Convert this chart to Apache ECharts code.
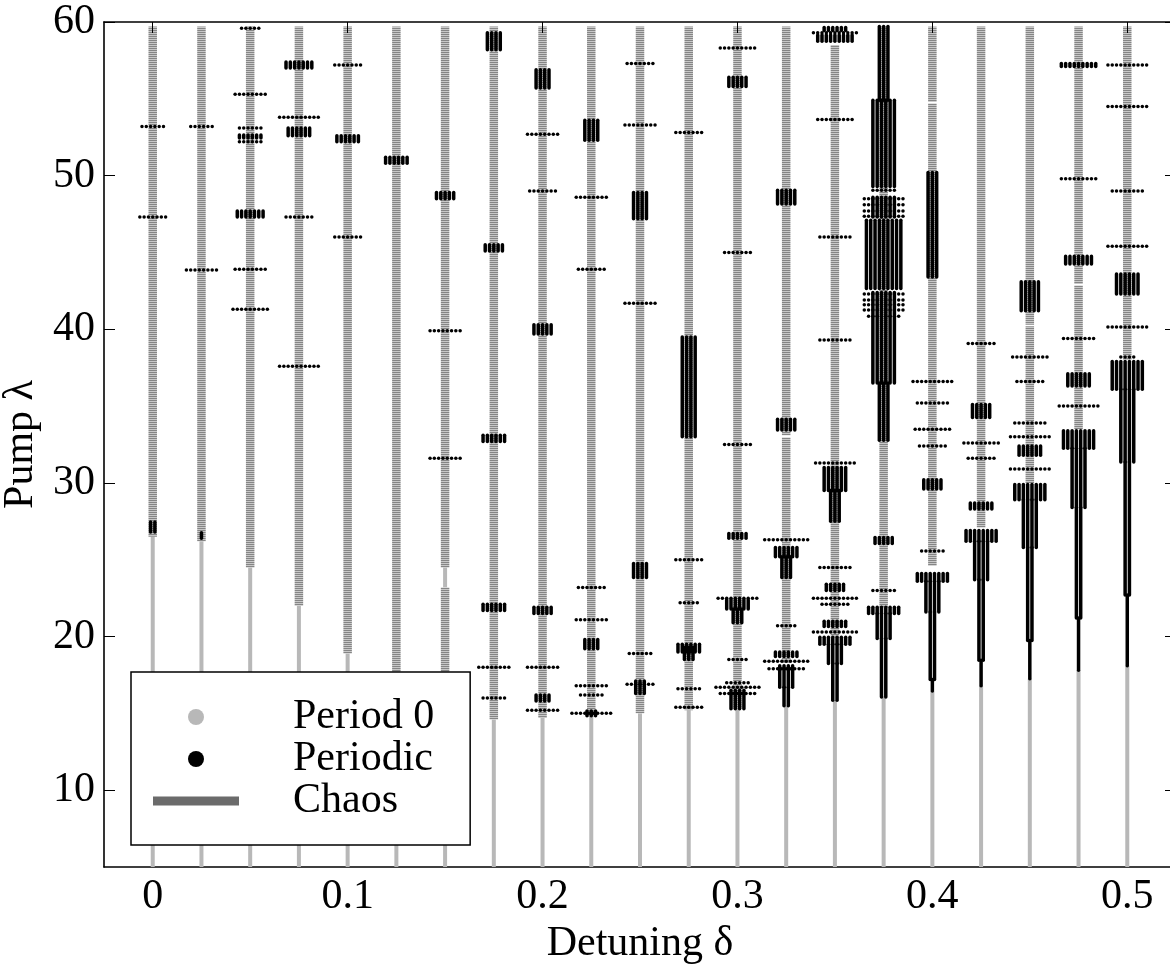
<!DOCTYPE html>
<html>
<head>
<meta charset="utf-8">
<script src="https://cdn.jsdelivr.net/npm/echarts@6/dist/echarts.min.js"></script>
<style>
  html, body { margin: 0; padding: 0; background: #fff; }
  #chart { width: 1170px; height: 965px; }
</style>
</head>
<body>
<div id="chart"></div>
<script>
// detuning columns
const deltas = [0, 0.025, 0.05, 0.075, 0.1, 0.125, 0.15, 0.175, 0.2, 0.225, 0.25,
  0.275, 0.3, 0.325, 0.35, 0.375, 0.4, 0.425, 0.45, 0.475, 0.5]

const xTicks = [0, 0.1, 0.2, 0.3, 0.4, 0.5]
const yTicks = [10, 20, 30, 40, 50, 60]

// period 0 segments: [delta, lambdaLow, lambdaHigh]
const period0 = [
  [0, 5, 26.5], [0.025, 5, 26.2], [0.05, 5, 24.5], [0.075, 5, 22.0], [0.1, 5, 18.9],
  [0.125, 5, 17.0], [0.15, 5, 17.0], [0.15, 23.2, 24.5], [0.175, 5, 14.6], [0.2, 5, 14.7],
  [0.225, 5, 14.8], [0.25, 5, 15.0], [0.275, 5, 15.2], [0.3, 5, 15.3], [0.325, 5, 15.5],
  [0.35, 5, 15.85], [0.375, 5, 16.1], [0.4, 5, 16.45], [0.425, 5, 16.8], [0.45, 5, 17.25],
  [0.475, 5, 17.8], [0.5, 5, 18.1]
]

// chaos segments: [delta, lambdaLow, lambdaHigh]
const chaos = [
  [0, 26.5, 59.7], [0.025, 26.2, 59.7], [0.05, 24.5, 59.7], [0.075, 22.0, 59.7],
  [0.1, 18.9, 59.7], [0.125, 17.0, 59.7], [0.15, 24.5, 59.7], [0.15, 17.0, 23.2],
  [0.175, 14.6, 59.7], [0.2, 14.7, 59.7], [0.225, 14.8, 59.7], [0.25, 15.0, 59.7],
  [0.275, 15.2, 59.7], [0.3, 15.3, 59.7], [0.325, 18.3, 32.95], [0.325, 33.1, 59.7],
  [0.35, 20.0, 58.5], [0.375, 21.9, 59.7], [0.4, 24.6, 54.7], [0.4, 54.8, 59.7],
  [0.425, 27.1, 59.7], [0.45, 30.0, 40.2], [0.45, 40.3, 59.7], [0.475, 33.5, 42.85],
  [0.475, 42.95, 59.7], [0.5, 38.0, 59.7]
]

// periodic windows: [delta, lambdaLow, lambdaHigh, number of points]
const periodic = [
  [0, 26.8, 27.45, 2], [0, 53.2, 53.2, 6], [0, 47.3, 47.3, 7],
  [0.025, 26.4, 26.75, 1], [0.025, 53.2, 53.2, 6], [0.025, 43.85, 43.85, 8],
  [0.05, 59.6, 59.6, 5], [0.05, 55.3, 55.3, 8], [0.05, 53.1, 53.1, 6], [0.05, 52.45, 52.65, 6],
  [0.05, 52.2, 52.2, 6], [0.05, 47.3, 47.7, 7], [0.05, 43.9, 43.9, 8], [0.05, 41.3, 41.3, 9],
  [0.075, 57.0, 57.4, 7], [0.075, 53.8, 53.8, 10], [0.075, 52.6, 53.1, 6], [0.075, 47.3, 47.3, 7],
  [0.075, 37.6, 37.6, 10],
  [0.1, 57.2, 57.2, 7], [0.1, 52.2, 52.6, 6], [0.1, 46.0, 46.0, 7],
  [0.125, 50.8, 51.2, 6],
  [0.15, 48.5, 48.9, 5], [0.15, 39.9, 39.9, 8], [0.15, 31.6, 31.6, 8],
  [0.175, 58.2, 59.3, 4], [0.175, 45.1, 45.5, 5], [0.175, 32.7, 33.1, 6], [0.175, 21.7, 22.1, 6],
  [0.175, 18.0, 18.0, 8], [0.175, 16.0, 16.0, 6],
  [0.2, 55.7, 56.9, 4], [0.2, 52.7, 52.7, 8], [0.2, 49.0, 49.0, 7], [0.2, 39.7, 40.3, 5],
  [0.2, 21.5, 21.9, 5], [0.2, 18.0, 18.0, 8], [0.2, 15.8, 16.2, 4], [0.2, 15.2, 15.2, 8],
  [0.225, 52.3, 53.6, 4], [0.225, 48.6, 48.6, 8], [0.225, 43.9, 43.9, 7], [0.225, 23.2, 23.2, 7],
  [0.225, 21.1, 21.1, 8], [0.225, 19.2, 19.8, 4], [0.225, 16.8, 16.8, 8], [0.225, 16.2, 16.2, 6],
  [0.225, 15.0, 15.0, 10], [0.225, 14.85, 15.15, 3],
  [0.25, 57.3, 57.3, 7], [0.25, 53.3, 53.3, 8], [0.25, 47.2, 48.9, 4], [0.25, 41.7, 41.7, 8],
  [0.25, 23.85, 24.75, 4], [0.25, 18.9, 18.9, 6], [0.25, 16.9, 16.9, 7], [0.25, 16.3, 17.1, 3],
  [0.275, 52.8, 52.8, 7], [0.275, 33.0, 39.5, 4], [0.275, 25.0, 25.0, 7], [0.275, 22.2, 22.2, 5],
  [0.275, 19.0, 19.5, 6], [0.275, 18.5, 19.3, 3], [0.275, 16.6, 16.6, 6], [0.275, 15.4, 15.4, 7],
  [0.3, 58.3, 58.3, 9], [0.3, 55.8, 56.4, 5], [0.3, 45.0, 45.0, 7], [0.3, 32.5, 32.5, 7],
  [0.3, 26.4, 26.7, 5], [0.3, 22.5, 22.5, 10], [0.3, 21.8, 22.4, 6], [0.3, 20.9, 21.8, 3],
  [0.3, 18.5, 18.5, 5], [0.3, 17.0, 17.0, 6], [0.3, 16.7, 16.7, 11], [0.3, 16.3, 16.3, 9],
  [0.3, 15.3, 16.5, 4],
  [0.325, 48.15, 49.05, 5], [0.325, 33.45, 34.15, 5], [0.325, 26.3, 26.3, 11], [0.325, 25.2, 25.8, 6],
  [0.325, 23.85, 25.2, 3], [0.325, 20.7, 20.7, 5], [0.325, 18.7, 19.0, 6], [0.325, 18.4, 18.4, 11],
  [0.325, 17.9, 17.9, 9], [0.325, 16.7, 18.1, 4], [0.325, 15.5, 16.7, 2],
  [0.35, 59.45, 59.65, 6], [0.35, 59.3, 59.3, 11], [0.35, 58.75, 59.15, 9], [0.35, 53.65, 53.65, 9],
  [0.35, 46.0, 46.0, 8], [0.35, 39.3, 39.3, 8], [0.35, 31.3, 31.3, 10], [0.35, 29.5, 31.0, 6],
  [0.35, 27.5, 29.5, 3], [0.35, 24.5, 24.5, 8], [0.35, 23.0, 23.4, 5], [0.35, 22.5, 22.5, 11],
  [0.35, 22.1, 22.1, 7], [0.35, 20.65, 21.0, 6], [0.35, 20.3, 20.3, 11], [0.35, 19.5, 19.95, 8],
  [0.35, 18.25, 19.5, 4], [0.35, 15.85, 18.25, 2],
  [0.375, 54.9, 59.7, 3], [0.375, 49.3, 54.9, 6], [0.375, 49.05, 49.05, 6], [0.375, 47.3, 48.6, 6],
  [0.375, 48.5, 48.5, 10], [0.375, 48.1, 48.1, 10], [0.375, 47.7, 47.7, 10], [0.375, 47.35, 47.35, 10],
  [0.375, 42.65, 47.1, 9], [0.375, 42.3, 42.3, 10], [0.375, 41.9, 41.9, 10], [0.375, 41.6, 41.6, 10],
  [0.375, 41.25, 41.25, 10], [0.375, 40.85, 40.85, 8], [0.375, 36.5, 42.4, 6], [0.375, 32.77, 36.5, 3],
  [0.375, 26.05, 26.45, 5], [0.375, 23.0, 23.0, 6], [0.375, 21.5, 21.9, 8], [0.375, 19.87, 21.5, 4],
  [0.375, 16.07, 19.87, 2],
  [0.4, 43.4, 50.2, 3], [0.4, 36.6, 36.6, 10], [0.4, 35.2, 35.2, 8], [0.4, 33.5, 33.5, 9],
  [0.4, 32.4, 32.4, 7], [0.4, 29.6, 30.2, 5], [0.4, 25.57, 25.57, 6], [0.4, 23.6, 24.1, 8],
  [0.4, 21.6, 23.6, 4], [0.4, 17.2, 21.6, 2], [0.4, 16.45, 17.2, 1],
  [0.425, 39.07, 39.07, 7], [0.425, 34.25, 35.1, 5], [0.425, 32.6, 32.6, 9], [0.425, 31.6, 31.6, 7],
  [0.425, 28.3, 28.7, 6], [0.425, 26.2, 26.9, 8], [0.425, 23.7, 26.2, 4], [0.425, 18.45, 23.7, 2],
  [0.425, 16.8, 18.45, 1],
  [0.45, 41.2, 43.1, 5], [0.45, 38.2, 38.2, 9], [0.45, 36.6, 36.6, 7], [0.45, 33.9, 33.9, 8],
  [0.45, 33.0, 33.0, 10], [0.45, 31.8, 32.4, 6], [0.45, 30.9, 30.9, 10], [0.45, 28.9, 29.9, 8],
  [0.45, 25.8, 28.9, 4], [0.45, 19.75, 25.8, 2], [0.45, 17.25, 19.75, 1],
  [0.475, 57.1, 57.3, 9], [0.475, 49.8, 49.8, 9], [0.475, 44.25, 44.75, 7], [0.475, 39.4, 39.4, 8],
  [0.475, 36.3, 37.1, 6], [0.475, 35.0, 35.0, 10], [0.475, 32.25, 33.4, 8], [0.475, 28.4, 32.25, 4],
  [0.475, 21.2, 28.4, 2], [0.475, 17.8, 21.2, 1],
  [0.5, 57.2, 57.2, 10], [0.5, 54.5, 54.5, 10], [0.5, 49.0, 49.0, 8], [0.5, 45.4, 45.4, 10],
  [0.5, 42.3, 43.6, 6], [0.5, 40.15, 40.15, 10], [0.5, 38.2, 38.2, 4], [0.5, 36.1, 37.9, 8],
  [0.5, 31.36, 36.1, 4], [0.5, 22.7, 31.36, 2], [0.5, 18.1, 22.7, 1]
]

const FONT = 'Liberation Serif'
const DOT = 3.5       // marker diameter, px
const DOT_GAP = 4.3   // spacing of the points of one orbit, px
const CHAOS_W = 8.5
const P0_W = 4

// striped fill for the chaos band
const stripe = document.createElement('canvas')
stripe.width = 1
stripe.height = 2
const sctx = stripe.getContext('2d')
sctx.fillStyle = '#858585'
sctx.fillRect(0, 0, 1, 1)
sctx.fillStyle = '#c8c8c8'
sctx.fillRect(0, 1, 1, 1)

function bandItem(width, fill) {
  return function (params, api) {
    const lo = api.coord([api.value(0), api.value(1)])
    const hi = api.coord([api.value(0), api.value(2)])
    return {
      type: 'rect',
      shape: { x: lo[0] - width / 2, y: hi[1], width: width, height: lo[1] - hi[1] },
      style: { fill: fill }
    }
  }
}

function periodicItem(params, api) {
  const d = api.value(0)
  const lo = api.coord([d, api.value(1)])
  const hi = api.coord([d, api.value(2)])
  const n = api.value(3)
  const children = []
  for (let i = 0; i < n; i++) {
    const cx = lo[0] + (i - (n - 1) / 2) * DOT_GAP
    children.push({
      type: 'rect',
      shape: { x: cx - DOT / 2, y: hi[1] - DOT / 2, width: DOT, height: lo[1] - hi[1] + DOT, r: DOT / 2 },
      style: { fill: '#000' }
    })
  }
  return { type: 'group', children: children }
}

const chart = echarts.init(document.getElementById('chart'), null, { renderer: 'canvas' })

const axisFont = { fontFamily: FONT, fontSize: 42, color: '#000' }
const frameLine = { show: true, onZero: false, lineStyle: { color: '#000', width: 1.6 } }

const option = {
  backgroundColor: '#fff',
  animation: false,
  grid: { left: 104, right: -6, top: 22, bottom: 98, outerBoundsMode: 'none', containLabel: false },
  xAxis: [{
    type: 'value', min: -0.025, max: 0.525, position: 'bottom',
    axisLine: frameLine,
    axisTick: { inside: true, length: 11, customValues: xTicks, lineStyle: { color: '#000' } },
    axisLabel: Object.assign({ customValues: xTicks, margin: 9 }, axisFont),
    splitLine: { show: false },
    name: 'Detuning δ', nameLocation: 'middle', nameGap: 44,
    nameTextStyle: { fontFamily: FONT, fontSize: 42, color: '#000' }
  }, {
    type: 'value', min: -0.025, max: 0.525, position: 'top', z: 5,
    axisLine: frameLine,
    axisTick: { inside: true, length: 11, customValues: xTicks, lineStyle: { color: '#000' } },
    axisLabel: { show: false },
    splitLine: { show: false }
  }],
  yAxis: [{
    type: 'value', min: 5, max: 60, position: 'left',
    axisLine: frameLine,
    axisTick: { show: true, inside: true, length: 11, customValues: yTicks, lineStyle: { color: '#000' } },
    axisLabel: Object.assign({ customValues: yTicks, margin: 9, padding: [4, 0, 0, 0] }, axisFont),
    splitLine: { show: false },
    name: 'Pump λ', nameLocation: 'middle', nameGap: 56,
    nameTextStyle: { fontFamily: FONT, fontSize: 42, color: '#000' }
  }, {
    type: 'value', min: 5, max: 60, position: 'right',
    axisLine: frameLine,
    axisTick: { show: true, inside: true, length: 11, customValues: yTicks, lineStyle: { color: '#000' } },
    axisLabel: { show: false },
    splitLine: { show: false }
  }],
  legend: {
    orient: 'vertical', left: 131, top: 672,
    backgroundColor: '#fff', borderColor: '#000', borderWidth: 1.5, borderRadius: 0,
    padding: [24, 36, 23, 22],
    itemWidth: 86, itemHeight: 16, itemGap: 0,
    selectedMode: false,
    textStyle: { fontFamily: FONT, fontSize: 42, color: '#000', padding: [0, 0, 0, 49] },
    data: [
      { name: 'Period 0', icon: 'circle' },
      { name: 'Periodic', icon: 'circle' },
      { name: 'Chaos', icon: 'path://M0,0H86V9H0Z' }
    ]
  },
  series: [{
    name: 'Period 0', type: 'custom', z: 2,
    itemStyle: { color: '#b8b8b8' },
    renderItem: bandItem(P0_W, '#b8b8b8'),
    data: period0
  }, {
    name: 'Chaos', type: 'custom', z: 3,
    itemStyle: { color: '#6b6b6b' },
    renderItem: bandItem(CHAOS_W, { image: stripe, repeat: 'repeat' }),
    data: chaos
  }, {
    name: 'Periodic', type: 'custom', z: 4,
    itemStyle: { color: '#000' },
    renderItem: periodicItem,
    data: periodic
  }]
}

chart.setOption(option)
</script>
</body>
</html>
